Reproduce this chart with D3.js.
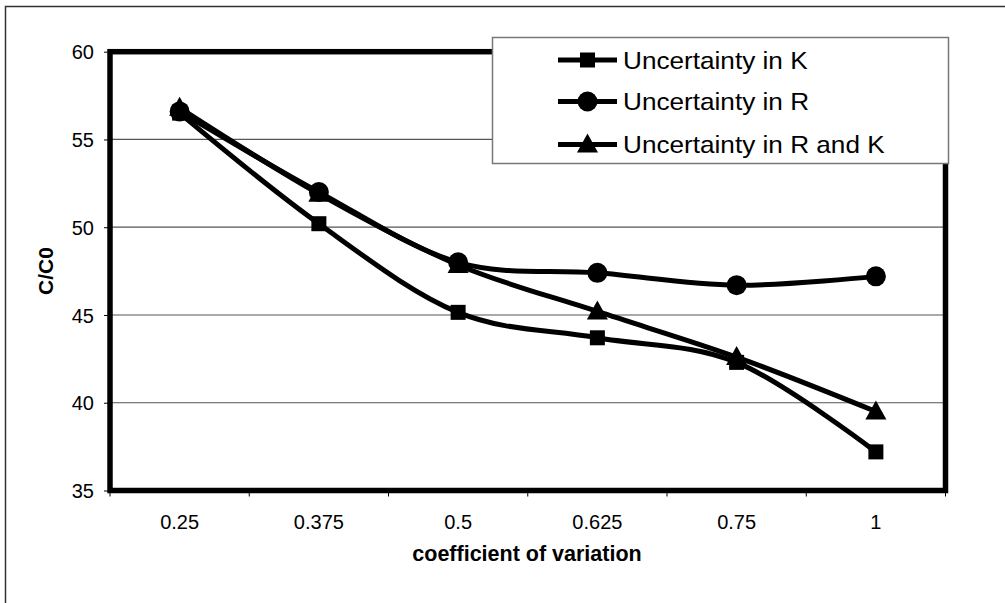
<!DOCTYPE html>
<html><head><meta charset="utf-8">
<script src="https://cdn.jsdelivr.net/npm/d3@7"></script>
<style>body{margin:0;background:#fff}svg{display:block}text{font-family:"Liberation Sans",Arial,sans-serif}</style>
</head><body><svg id="c" width="1005" height="603"></svg>
<script>
const categories = ["0.25","0.375","0.5","0.625","0.75","1"];
const yTicks = [35,40,45,50,55,60];
const seriesNames = ["Uncertainty in K","Uncertainty in R","Uncertainty in R and K"];
const valuesK  = [56.5, 50.2, 45.15, 43.7, 42.3, 37.2];
const valuesR  = [56.6, 52.0, 48.0, 47.4, 46.7, 47.2];
const valuesRK = [56.8, 51.9, 47.85, 45.2, 42.6, 39.5];
const markers = ["square","circle","triangle"];

const svg = d3.select("#c");
const L=110, R=945.5, T=51.7, B=490.5;
const x = d3.scaleBand().domain(categories).range([L,R]);
const y = d3.scaleLinear().domain([35,60]).range([B,T]);

// outer border (left & top only visible)
svg.append("path").attr("d","M5.5,603V6.5H1005").attr("fill","none").attr("stroke","#333").attr("stroke-width",1.5);

// gridlines
svg.append("g").selectAll("line").data(yTicks.filter(t=>t>35&&t<60)).join("line")
  .attr("x1",L).attr("x2",R).attr("y1",d=>y(d)).attr("y2",d=>y(d))
  .attr("stroke","#555").attr("stroke-width",1.2);

// axes
const ya = svg.append("g").attr("transform",`translate(${L},0)`)
  .call(d3.axisLeft(y).tickValues(yTicks).tickSize(6).tickPadding(10));
ya.select(".domain").remove();
ya.selectAll("text").attr("font-size",20).attr("fill","#000").attr("dy","0.36em");
ya.selectAll("line").attr("stroke","#000");

const xa = svg.append("g").attr("transform",`translate(0,${B})`);
xa.selectAll("line").data(d3.range(categories.length+1)).join("line")
  .attr("x1",i=>L+i*x.bandwidth()).attr("x2",i=>L+i*x.bandwidth())
  .attr("y1",0).attr("y2",6).attr("stroke","#000");
xa.selectAll("text").data(categories).join("text")
  .attr("x",d=>x(d)+x.bandwidth()/2).attr("y",38.5)
  .attr("text-anchor","middle").attr("font-size",20).text(d=>d);

// plot border
svg.append("rect").attr("x",L).attr("y",T).attr("width",R-L).attr("height",B-T)
  .attr("fill","none").attr("stroke","#000").attr("stroke-width",5.5);

// axis titles
svg.append("text").attr("x",527).attr("y",561).attr("text-anchor","middle")
  .attr("font-size",21.5).attr("font-weight","bold").text("coefficient of variation");
svg.append("text").attr("transform","translate(53,271) rotate(-90)").attr("text-anchor","middle")
  .attr("font-size",21).attr("font-weight","bold").text("C/C0");

// series
const allSeries = [valuesK, valuesR, valuesRK];
const line = d3.line().x((d,i)=>x(categories[i])+x.bandwidth()/2).y(d=>y(d)).curve(d3.curveCatmullRom.alpha(0));
function drawMarker(g, type, cx, cy){
  if(type==="square") g.append("rect").attr("x",cx-7.5).attr("y",cy-7.5).attr("width",15).attr("height",15).attr("fill","#000");
  else if(type==="circle") g.append("circle").attr("cx",cx).attr("cy",cy).attr("r",10).attr("fill","#000");
  else g.append("path").attr("d",`M${cx},${cy-11}L${cx+10.5},${cy+8}L${cx-10.5},${cy+8}Z`).attr("fill","#000");
}
allSeries.forEach((vals,si)=>{
  svg.append("path").attr("d",line(vals)).attr("fill","none").attr("stroke","#000").attr("stroke-width",5);
});
allSeries.forEach((vals,si)=>{
  const g = svg.append("g");
  vals.forEach((v,i)=>drawMarker(g, markers[si], x(categories[i])+x.bandwidth()/2, y(v)));
});

// legend
const lg = svg.append("g");
lg.append("rect").attr("x",492.5).attr("y",37.5).attr("width",456).attr("height",126)
  .attr("fill","#fff").attr("stroke","#777").attr("stroke-width",1.5);
const rows=[60,101.5,144.5];
seriesNames.forEach((n,i)=>{
  lg.append("line").attr("x1",558).attr("x2",617).attr("y1",rows[i]).attr("y2",rows[i]).attr("stroke","#000").attr("stroke-width",5);
  drawMarker(lg, markers[i], 587.5, rows[i]);
  lg.append("text").attr("transform",`translate(623,${rows[i]+8.5}) scale(1.09,1)`).attr("font-size",24).text(n);
});
</script></body></html>
